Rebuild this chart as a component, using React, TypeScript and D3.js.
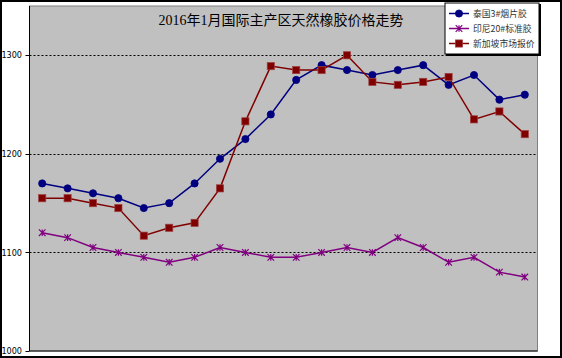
import React, { useEffect } from "react";
import * as d3 from "d3";

const categories = d3.range(1, 21).map(String);
const thai = [1170, 1165, 1160, 1155, 1145, 1150, 1170, 1195, 1215, 1240, 1275, 1290, 1285, 1280, 1285, 1290, 1270, 1280, 1255, 1260];
const indo = [1120, 1115, 1105, 1100, 1095, 1090, 1095, 1105, 1100, 1095, 1095, 1100, 1105, 1100, 1115, 1105, 1090, 1095, 1080, 1075];
const sing = [1155, 1155, 1150, 1145, 1117, 1125, 1130, 1165, 1233, 1289, 1285, 1285, 1300, 1273, 1270, 1273, 1278, 1235, 1243, 1220];
const yTicks = [1000, 1100, 1200, 1300];
const gridTicks = [1100, 1200, 1300];
const title = "2016年1月国际主产区天然橡胶价格走势";
const seriesNames = ["泰国3#烟片胶", "印尼20#标准胶", "新加坡市场报价"];

const W = 562, H = 358;
const PL = 29.5, PR = 537.5, PT = 6, PB = 351;

export default function App() {
  useEffect(() => { document.body.style.margin = "0"; }, []);
  const x = d3.scaleBand<string>().domain(categories).range([PL, PR]);
  const cx = (i: number) => (x(categories[i]) as number) + x.bandwidth() / 2;
  const y = d3.scaleLinear().domain([1000, 1350]).range([PB, PT]);
  const line = d3.line<number>().x((_, i) => cx(i)).y((d) => y(d));

  const series = [
    { name: seriesNames[0], data: thai, color: "#000080", marker: "circle" },
    { name: seriesNames[1], data: indo, color: "#800080", marker: "star" },
    { name: seriesNames[2], data: sing, color: "#800000", marker: "square" },
  ];

  const marker = (m: string, color: string, px: number, py: number, key: any) => {
    if (m === "circle") return <circle key={key} cx={px} cy={py} r={3.6} fill={color} stroke={color} strokeWidth={0.8} />;
    if (m === "square") return <rect key={key} x={px - 3.6} y={py - 3.6} width={7.2} height={7.2} fill={color} stroke="#a04040" strokeWidth={0.7} />;
    const s = 3.3;
    return (
      <path key={key} d={`M${px - s},${py - s}L${px + s},${py + s}M${px - s},${py + s}L${px + s},${py - s}M${px},${py - s}L${px},${py + s}`} stroke={color} strokeWidth={1.2} fill="none" />
    );
  };

  return (
    <svg width={W} height={H} style={{ position: "fixed", left: 0, top: 0, display: "block" }}>
      <rect x={0} y={0} width={W} height={H} fill="#fff" />
      <rect x={1} y={1} width={W - 2} height={H - 2} fill="none" stroke="#000" strokeWidth={2} />
      <rect x={PL} y={PT} width={PR - PL} height={PB - PT} fill="#C0C0C0" stroke="#808080" strokeWidth={1} />
      {gridTicks.map((t) => (
        <line key={t} x1={PL} x2={PR} y1={Math.round(y(t)) + 0.5} y2={Math.round(y(t)) + 0.5} stroke="#000" strokeDasharray="2,2" strokeWidth={1} />
      ))}
      <line x1={PL} x2={PL} y1={PT} y2={PB} stroke="#000" strokeWidth={1} />
      <line x1={PL} x2={PR} y1={PB} y2={PB} stroke="#000" strokeWidth={1} />
      {yTicks.map((t) => (
        <g key={t}>
          <line x1={PL - 4} x2={PL} y1={Math.round(y(t)) + 0.5} y2={Math.round(y(t)) + 0.5} stroke="#000" />
          <text x={22} y={y(t)} dy="0.35em" textAnchor="end" fontSize={9} fontFamily="DejaVu Sans Condensed, DejaVu Sans, sans-serif" fill="#000">{t}</text>
        </g>
      ))}
      <text x={281} y={25} textAnchor="middle" fontSize={14} fontFamily="Liberation Serif, Noto Sans CJK SC, serif" fill="#000">{title}</text>
      {series.map((s) => (
        <g key={s.name}>
          <path d={line(s.data) as string} fill="none" stroke={s.color} strokeWidth={1.5} />
          {s.data.map((v, i) => marker(s.marker, s.color, cx(i), y(v), i))}
        </g>
      ))}
      <rect x={446} y={4} width={95} height={52} fill="#000" />
      <rect x={445} y={3} width={94} height={51} fill="#fff" stroke="#000" strokeWidth={1} />
      {series.map((s, i) => {
        const ly = 13.5 + i * 15;
        return (
          <g key={s.name}>
            <line x1={449} x2={469} y1={ly} y2={ly} stroke={s.color} strokeWidth={1.5} />
            {marker(s.marker, s.color, 459, ly, "m")}
            <text x={473} y={ly} dy="0.35em" fontSize={8.8} fontFamily="Noto Sans CJK SC, sans-serif" fill="#333">{s.name}</text>
          </g>
        );
      })}
    </svg>
  );
}
